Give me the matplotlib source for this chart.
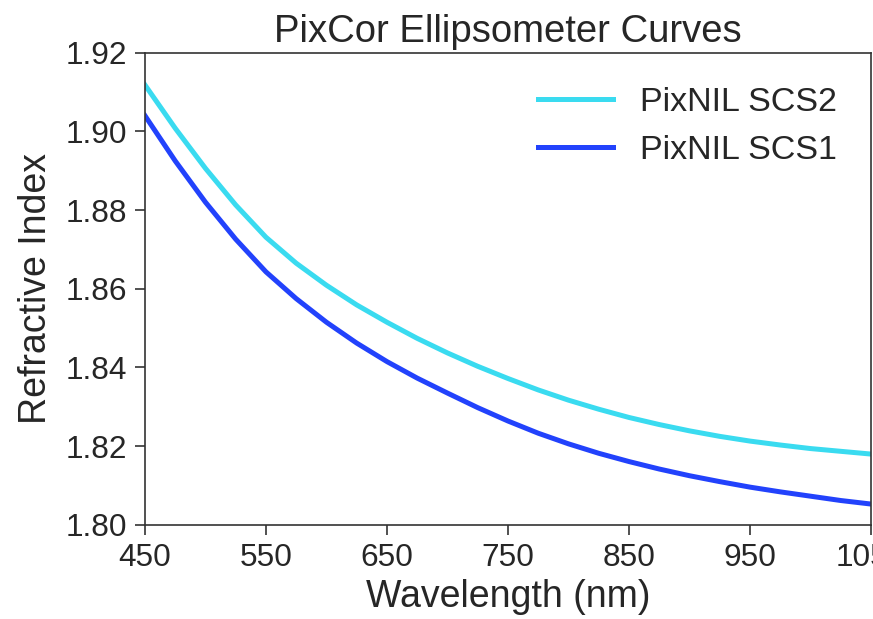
#!/usr/bin/env python3
"""
PixCor ellipsometer curves: refractive index vs wavelength
"""

import numpy as np
import matplotlib
matplotlib.use('Agg')
import matplotlib.pyplot as plt

# wavelengths (nm) and refractive index
wavelength = [450, 475, 500, 525, 550, 575, 600, 625, 650, 675, 700, 725, 750, 775,
              800, 825, 850, 875, 900, 925, 950, 975, 1000, 1025, 1050]
n_scs2 = [1.9118, 1.9008, 1.8906, 1.8813, 1.8731, 1.8665, 1.8609, 1.8559, 1.8515,
          1.8474, 1.8437, 1.8403, 1.8372, 1.8343, 1.8317, 1.8294, 1.8273, 1.8255,
          1.8239, 1.8225, 1.8213, 1.8203, 1.8194, 1.8187, 1.8180]
n_scs1 = [1.9040, 1.8925, 1.8820, 1.8726, 1.8643, 1.8575, 1.8515, 1.8462, 1.8415,
          1.8373, 1.8335, 1.8298, 1.8264, 1.8233, 1.8206, 1.8182, 1.8161, 1.8142,
          1.8125, 1.8110, 1.8096, 1.8084, 1.8073, 1.8062, 1.8053]

xticks = [450, 550, 650, 750, 850, 950, 1050]
yticks = [1.80, 1.82, 1.84, 1.86, 1.88, 1.90, 1.92]

plt.rcParams['font.family'] = ['Liberation Sans', 'DejaVu Sans']
text_col = '#262626'

fig = plt.figure(figsize=(8.73, 6.19), dpi=100)
ax = fig.add_axes([0.166, 0.152, 0.9977 - 0.166, 0.915 - 0.152])

ax.plot(wavelength, n_scs2, color='#3adbf0', linewidth=3.6, label='PixNIL SCS2',
        solid_joinstyle='round')
ax.plot(wavelength, n_scs1, color='#2242fc', linewidth=3.6, label='PixNIL SCS1',
        solid_joinstyle='round')

ax.set_xlim(450, 1050)
ax.set_ylim(1.80, 1.92)
ax.set_xticks(xticks)
ax.set_yticks(yticks)
ax.set_yticklabels([f'{v:.2f}' for v in yticks])

for side in ['top', 'right', 'left', 'bottom']:
    ax.spines[side].set_color('#333333')
    ax.spines[side].set_linewidth(1.2)

ax.tick_params(axis='both', direction='out', length=7, width=1.2, color='#333333',
               labelsize=22.8, labelcolor=text_col, pad=6)

ax.set_xlabel('Wavelength (nm)', fontsize=27, color=text_col, labelpad=4)
ax.set_ylabel('Refractive Index', fontsize=27, color=text_col, labelpad=8)
ax.set_title('PixCor Ellipsometer Curves', fontsize=27.5, color=text_col, pad=8)

leg = ax.legend(loc='upper right', frameon=False, fontsize=24.5, handlelength=2.2,
                borderaxespad=0.6)
for t in leg.get_texts():
    t.set_color(text_col)

fig.savefig('out.png', dpi=100)
plt.close(fig)
